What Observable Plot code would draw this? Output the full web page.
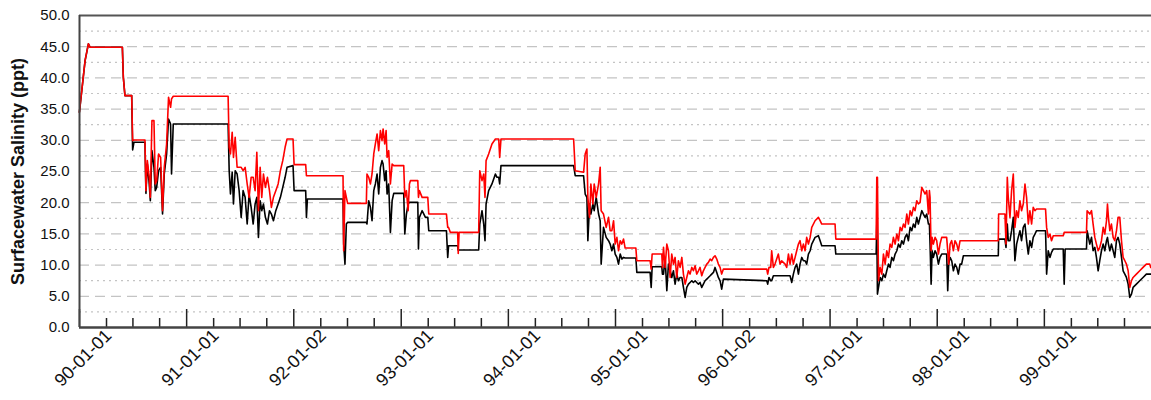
<!DOCTYPE html>
<html><head><meta charset="utf-8">
<script src="https://cdn.jsdelivr.net/npm/d3@7"></script>
<script src="https://cdn.jsdelivr.net/npm/@observablehq/plot@0.6"></script>
<style>body{margin:0;background:#fff;} svg{display:block;}</style>
</head><body><div id="chart"></div>
<script>
// decimal-year time stamps of the readings
const times = [
1989.747,1989.800,1989.831,1989.846,1990.148,1990.157,1990.172,1990.235,1990.244,1990.256,1990.359,1990.368,1990.381,1990.399,1990.409,1990.424,1990.443,1990.455,1990.468,1990.486,1990.505,1990.523,1990.539,1990.561,1990.579,1990.598,1990.607,1990.623,
1991.135,1991.145,1991.157,1991.173,1991.185,1991.201,1991.219,1991.238,1991.257,1991.275,1991.294,1991.313,1991.331,1991.350,1991.369,1991.387,1991.403,1991.418,1991.434,1991.449,1991.465,1991.483,1991.502,1991.521,1991.539,1991.558,1991.580,1991.602,1991.623,1991.645,1991.667,1991.685,1991.741,1991.751,1991.859,1991.866,1991.875,1992.207,
1992.213,1992.225,1992.238,1992.250,1992.424,1992.430,1992.446,1992.462,1992.477,1992.493,1992.508,1992.524,1992.539,1992.555,1992.570,1992.580,1992.595,1992.608,1992.617,1992.632,1992.648,1992.664,1992.679,1992.772,1992.782,1992.797,1992.813,1992.825,1992.834,1992.903,1992.909,1992.918,1992.943,1992.974,1992.996,1993.005,1993.170,1993.182,1993.190,1993.207,1993.275,1993.280,1993.288,1993.471,
1993.481,1993.502,1993.518,1993.530,1993.540,1993.564,1993.595,1993.627,1993.642,1993.658,1993.667,1993.679,1994.357,1994.372,1994.450,1994.465,1994.481,1994.490,1994.506,1994.518,1994.537,1994.549,1994.568,1994.590,1994.605,1994.614,1994.636,1994.661,1994.683,1994.698,
1994.714,1994.730,1994.745,1994.761,1994.776,1994.792,1994.807,1994.823,1994.838,1994.938,1994.947,1995.071,1995.081,1995.090,1995.180,1995.186,1995.196,1995.211,1995.227,1995.242,1995.258,1995.273,1995.289,1995.304,1995.320,1995.335,1995.351,1995.367,1995.382,1995.398,1995.413,1995.429,1995.444,1995.460,1995.475,1995.491,1995.506,1995.522,1995.537,1995.553,1995.568,1995.584,1995.600,1995.615,1995.631,1995.646,1995.662,1995.677,1995.693,1995.708,1995.724,1995.739,1995.755,
1996.159,1996.168,1996.180,1996.196,1996.205,1996.221,1996.236,1996.267,1996.283,1996.298,1996.330,1996.345,1996.361,1996.376,1996.392,1996.407,1996.423,1996.438,1996.454,1996.469,1996.485,1996.500,1996.516,1996.531,1996.547,1996.563,1996.578,1996.609,1996.640,1996.656,1996.671,1996.795,1996.802,
1997.178,1997.184,1997.190,1997.200,1997.215,1997.231,1997.246,1997.262,1997.277,1997.293,1997.308,1997.324,1997.339,1997.355,1997.371,1997.386,1997.402,1997.417,1997.433,1997.448,1997.464,1997.479,1997.495,1997.510,1997.526,1997.541,1997.557,1997.572,1997.588,1997.604,1997.619,1997.635,1997.650,1997.666,1997.675,1997.681,1997.691,1997.700,1997.712,1997.728,1997.743,1997.759,1997.774,1997.790,1997.836,1997.846,1997.855,1997.868,1997.883,1997.899,1997.914,1997.930,1997.945,1997.961,1997.976,1997.992,
1998.318,1998.321,1998.380,1998.390,1998.402,1998.411,1998.427,1998.442,1998.458,1998.473,1998.489,1998.504,1998.520,1998.535,1998.551,1998.567,1998.582,1998.598,1998.613,1998.629,1998.644,1998.660,1998.675,1998.759,1998.769,1998.784,1998.800,1998.815,1998.831,1998.924,1998.933,1998.942,
1999.141,1999.147,1999.172,1999.188,1999.203,1999.219,1999.234,1999.250,1999.265,1999.281,1999.297,1999.312,1999.328,1999.337,1999.346,1999.359,1999.374,1999.390,1999.405,1999.421,1999.436,1999.452,1999.468,1999.483,1999.499,1999.514,1999.530,1999.545,1999.561,1999.576,1999.607,1999.638,1999.669,1999.700,1999.731,1999.741
];
// black series (ppt)
const black = [
34.49,42.78,45.45,44.92,44.92,40.11,37.16,37.16,28.45,29.68,29.68,21.50,26.20,23.00,20.32,28.34,25.67,21.93,22.46,25.13,25.67,18.18,24.60,27.81,33.42,32.62,24.60,32.62,
32.62,25.13,21.39,24.87,19.79,25.13,24.60,21.93,17.65,21.93,20.86,16.58,21.39,19.25,16.58,19.79,20.86,14.44,20.32,18.72,19.79,17.65,16.58,18.72,18.18,17.11,18.72,19.79,20.86,22.46,24.07,25.67,25.94,21.93,21.93,17.65,20.59,20.59,
13.37,10.16,16.58,16.85,16.85,16.58,20.32,19.25,17.11,21.93,23.00,24.60,21.39,25.67,26.74,26.20,23.53,25.13,21.39,23.00,15.24,20.32,21.50,21.50,14.98,18.18,19.79,20.06,20.06,20.06,12.57,17.65,18.72,17.65,17.65,15.51,15.51,11.23,13.10,13.10,13.10,12.41,12.41,12.41,
16.58,18.72,16.58,13.91,19.79,21.93,23.00,24.60,24.07,24.07,23.00,25.94,25.94,24.33,24.33,21.39,20.86,13.91,19.79,18.18,19.79,18.72,20.86,18.18,17.11,10.16,16.04,14.44,13.91,13.37,
12.30,13.37,11.77,11.23,10.16,11.77,10.97,11.23,11.13,11.13,8.83,8.83,6.42,9.74,9.74,8.56,8.56,11.23,5.89,10.16,9.09,8.02,9.09,6.95,8.56,7.49,8.02,8.02,6.42,4.82,6.42,6.95,7.22,7.49,7.22,7.49,7.22,6.95,7.22,6.42,6.95,7.49,7.76,8.02,8.29,8.56,8.83,9.63,8.83,8.02,7.49,6.15,7.76,
7.49,6.95,8.02,7.49,7.49,8.29,8.29,8.29,8.29,8.29,8.29,8.29,8.29,8.29,7.22,8.56,9.63,10.16,8.56,10.16,11.23,10.70,10.70,10.16,11.77,12.30,13.37,14.44,14.71,13.91,13.10,13.10,11.77,
11.77,16.58,5.35,6.42,8.02,7.49,8.56,8.02,9.09,10.16,9.63,11.23,10.70,11.77,12.30,13.37,12.84,13.91,13.37,14.44,14.98,13.91,16.04,15.51,16.58,16.04,17.65,16.58,17.65,18.72,18.18,17.65,18.18,16.58,16.58,13.37,6.95,12.30,11.23,12.30,11.77,10.16,11.23,11.77,11.77,5.89,10.16,11.23,10.70,9.09,10.16,9.63,8.56,10.16,10.16,11.50,
11.50,14.17,14.17,12.84,16.58,13.91,13.91,15.51,17.65,10.70,13.37,14.44,15.51,13.91,16.04,16.58,13.91,11.77,13.91,12.84,14.44,14.98,15.51,15.51,8.56,12.30,11.23,12.04,12.57,12.57,6.95,12.57,
12.57,15.51,13.37,14.44,12.30,12.84,11.23,9.09,10.70,12.30,13.37,12.30,13.91,14.44,13.37,12.30,13.37,12.30,11.23,13.91,14.44,13.37,11.23,9.09,8.56,8.02,6.95,4.82,5.35,6.42,6.95,7.49,8.02,8.56,8.56,8.56
];
// red series (ppt)
const red = [
34.49,42.78,45.45,44.92,44.92,40.11,37.16,37.16,29.95,30.05,30.05,21.93,26.74,24.07,20.86,33.15,33.15,23.00,23.53,27.81,27.27,18.72,25.67,29.41,36.90,35.29,36.63,37.06,
37.06,28.88,27.81,31.28,27.27,30.48,25.67,25.67,25.67,25.13,25.67,23.00,20.86,24.07,24.07,21.93,28.08,18.72,25.67,20.86,24.60,22.46,24.07,21.93,19.25,20.86,21.93,23.00,25.13,26.74,28.88,30.21,30.21,26.10,26.10,24.33,24.33,24.33,
12.30,21.93,20.86,19.89,19.89,24.60,24.07,23.00,24.60,27.81,29.41,31.02,28.34,31.55,29.95,31.82,29.41,31.55,27.27,28.34,23.00,26.20,25.94,25.94,20.86,21.93,18.72,23.00,23.53,23.53,20.86,21.93,20.86,20.86,20.86,18.18,18.18,16.04,16.04,15.24,15.24,11.87,15.24,15.24,
25.13,23.53,24.60,20.86,26.74,27.81,29.41,30.21,30.21,30.21,27.27,30.21,30.21,25.13,24.87,27.81,28.61,20.86,17.65,23.00,19.79,23.00,20.86,23.00,25.67,18.72,18.18,16.04,17.65,15.51,
15.51,17.11,13.37,14.44,12.30,13.91,13.37,14.17,12.73,12.73,10.70,10.70,9.36,11.77,11.77,9.63,12.84,9.63,13.37,12.30,8.02,11.77,10.16,11.23,8.02,10.70,9.63,11.23,8.56,6.95,8.02,9.09,8.56,9.63,9.09,9.90,8.56,9.09,9.63,8.29,9.09,9.63,10.16,10.43,10.97,10.70,11.23,11.50,10.97,10.16,9.63,8.56,9.36,
9.36,8.56,9.63,9.63,12.30,9.63,10.16,11.77,10.16,10.70,10.16,9.63,11.77,10.16,11.77,10.16,11.23,12.30,13.37,13.91,12.30,13.37,12.30,14.44,13.37,14.44,16.04,17.11,17.65,17.11,16.58,16.58,14.17,
14.17,24.07,24.07,7.49,9.63,8.56,11.77,10.16,12.30,11.23,13.37,12.84,14.44,13.37,14.98,13.91,16.04,15.51,16.58,16.04,18.18,16.58,18.72,17.92,19.25,18.72,20.32,19.79,20.06,22.46,21.93,21.39,21.93,18.18,21.93,20.86,12.30,14.44,13.37,14.44,13.91,11.77,13.37,14.44,14.44,12.30,10.16,13.37,13.91,12.30,13.91,13.37,12.30,13.91,13.91,13.91,
13.91,18.18,18.18,13.37,24.07,20.86,17.65,21.93,24.60,16.04,18.72,17.65,20.32,18.72,19.79,23.00,20.86,16.58,18.72,16.58,19.25,18.72,18.99,18.99,16.04,14.44,14.98,13.91,14.71,14.71,15.24,15.24,
15.24,18.72,18.18,18.72,16.58,14.44,13.37,12.30,12.84,13.91,16.04,14.98,17.11,19.79,17.65,15.51,16.58,14.44,13.91,15.51,17.65,17.65,13.91,11.23,10.70,10.16,9.09,6.42,7.49,8.02,8.56,9.09,9.63,10.16,10.16,9.63
];
const xDomain = ["1989-10-01", "1999-10-01"];
const xLabels = ["90-01-01","91-01-01","92-01-02","93-01-01","94-01-01","95-01-01","96-01-02","97-01-01","98-01-01","99-01-01"];
const xLabelDates = ["1990-01-01","1991-01-01","1992-01-02","1993-01-01","1994-01-01","1995-01-01","1996-01-02","1997-01-01","1998-01-01","1999-01-01"];
const majorTickDates = ["1989-10-01","1990-10-01","1991-10-01","1992-10-01","1993-10-01","1994-10-01","1995-10-01","1996-10-01","1997-10-01","1998-10-01"];
const yTicks = [0,5,10,15,20,25,30,35,40,45,50];
const yMinorGrid = [2.5,7.5,12.5,17.5,22.5,27.5,32.5,37.5,42.5,47.5];
const yTitle = "Surfacewater Salinity (ppt)";

const toDate = t => { const y = Math.floor(t); const s = Date.UTC(y,0,1), e = Date.UTC(y+1,0,1); return new Date(s + (t - y) * (e - s)); };
const rows = times.map((t, i) => ({date: toDate(t), black: black[i], red: red[i]}));
const dom = xDomain.map(d => new Date(d));
const majorDates = majorTickDates.map(d => new Date(d));
const minorDates = d3.utcMonths(dom[0], dom[1], 3).filter(d => d.getUTCMonth() !== 9);
const labelDates = xLabelDates.map(d => new Date(d));
const labelMap = new Map(labelDates.map((d, i) => [+d, xLabels[i]]));

const chart = Plot.plot({
  width: 1151, height: 400,
  marginLeft: 79, marginRight: 0, marginTop: 15, marginBottom: 73,
  style: {fontFamily: "'Liberation Sans', Arial, sans-serif", fontSize: "15px", background: "#fff", color: "#111"},
  x: {type: "utc", domain: dom},
  y: {domain: [0, 50]},
  marks: [
    Plot.ruleY(yMinorGrid, {stroke: "#c4c4c4", strokeDasharray: "2,4", strokeWidth: 1.2}),
    Plot.ruleY(yTicks.filter(v => v > 0 && v < 50), {stroke: "#c4c4c4", strokeDasharray: "10,6", strokeWidth: 1.2}),
    Plot.line(rows, {x: "date", y: "black", stroke: "#000", strokeWidth: 1.6}),
    Plot.line(rows, {x: "date", y: "red", stroke: "#ff0000", strokeWidth: 1.6}),
    Plot.axisY(yTicks, {tickSize: 0, tickPadding: 10, tickFormat: d => d.toFixed(1), label: null, fontSize: 15}),
    Plot.axisX(minorDates, {tickSize: -9, tickFormat: () => "", label: null, stroke: "#222", strokeWidth: 1.5}),
    Plot.axisX(majorDates, {tickSize: -18, tickFormat: () => "", label: null, stroke: "#222", strokeWidth: 1.5}),
    Plot.axisX(labelDates, {tickSize: 0, tickPadding: 5, dx: 2, tickRotate: -45, tickFormat: d => labelMap.get(+d), label: null, fontSize: 18}),
    Plot.ruleY([0], {stroke: "#444", strokeWidth: 2.5}),
    Plot.ruleY([50], {stroke: "#555", strokeWidth: 2}),
    Plot.ruleX([dom[0]], {stroke: "#444", strokeWidth: 2}),
    Plot.text([yTitle], {frameAnchor: "left", rotate: -90, dx: -61, textAnchor: "middle", fontWeight: "bold", fontSize: 18, fill: "#111"})
  ]
});
document.getElementById("chart").append(chart);
</script>
</body></html>
